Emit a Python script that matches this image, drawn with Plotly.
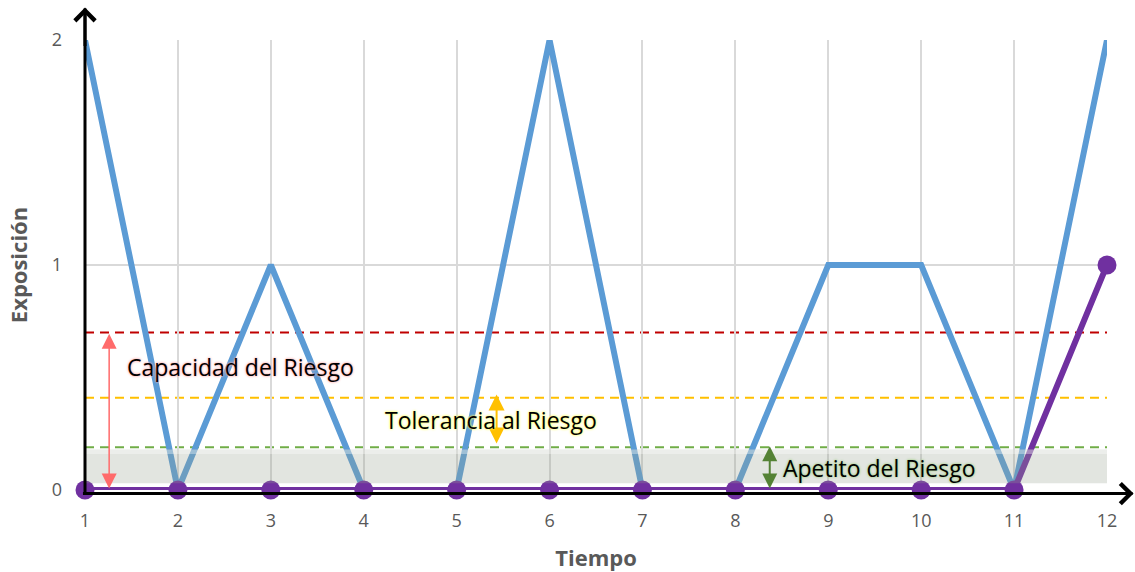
import plotly.graph_objects as go

# Time periods and exposure series
tiempo = list(range(1, 13))
exposicion_real = [2, 0, 1, 0, 0, 2, 0, 0, 1, 1, 0, 2]
exposicion_residual = [0, 0, 0, 0, 0, 0, 0, 0, 0, 0, 0, 1]

# Risk thresholds
capacidad = 0.70
tolerancia = 0.41
apetito = 0.19

x_ticks = tiempo
y_ticks = [0, 1, 2]

BLUE = "#5b9bd5"
PURPLE = "#7030a0"
RED = "#c00000"
YELLOW = "#ffc000"
GREEN = "#70ad47"
TXT = "#595959"
FONT = "'Open Sans', sans-serif"

fig = go.Figure()

fig.add_trace(go.Scatter(
    x=tiempo, y=exposicion_real, mode="lines",
    line=dict(color=BLUE, width=6), cliponaxis=False, hoverinfo="skip",
))
fig.add_trace(go.Scatter(
    x=tiempo, y=exposicion_residual, mode="lines+markers",
    line=dict(color=PURPLE, width=6),
    marker=dict(color=PURPLE, size=19),
    cliponaxis=False, hoverinfo="skip",
))

shapes = []
# threshold lines
for lvl, col in [(capacidad, RED), (tolerancia, YELLOW), (apetito, GREEN)]:
    shapes.append(dict(type="line", xref="x", yref="y", x0=1, x1=12, y0=lvl, y1=lvl,
                       line=dict(color=col, width=2, dash="9px,6px"), layer="below"))
# appetite zone
shapes.append(dict(type="rect", xref="x", yref="y", x0=1, x1=12, y0=0.03, y1=apetito - 0.01,
                   fillcolor="rgba(150,160,145,0.28)", line=dict(width=0), layer="above"))
shapes.append(dict(type="rect", xref="x", yref="y", x0=1, x1=12, y0=apetito - 0.03, y1=apetito - 0.01,
                   fillcolor="rgba(255,255,255,0.35)", line=dict(width=0), layer="above"))
# axis lines
shapes.append(dict(type="line", xref="paper", yref="paper", x0=0, x1=0, y0=-0.008, y1=1.07,
                   line=dict(color="black", width=3), layer="above"))
shapes.append(dict(type="line", xref="paper", yref="paper", x0=-0.002, x1=1.025, y0=-0.008, y1=-0.008,
                   line=dict(color="black", width=3), layer="above"))

annotations = []
# axis arrowheads (open chevrons)
annotations.append(dict(xref="paper", yref="paper", x=0, y=1.072, ax=0, ay=40, text="",
                        showarrow=True, arrowhead=4, arrowsize=1.3, arrowwidth=3, arrowcolor="black"))
annotations.append(dict(xref="paper", yref="paper", x=1.026, y=-0.008, ax=-40, ay=0, text="",
                        showarrow=True, arrowhead=4, arrowsize=1.3, arrowwidth=3, arrowcolor="black"))

# double-headed range arrows
def range_arrow(xv, y_lo, y_hi, color, width, size):
    return dict(xref="x", yref="y", axref="x", ayref="y", x=xv, y=y_hi, ax=xv, ay=y_lo,
                text="", showarrow=True, arrowhead=2, startarrowhead=2, arrowside="end+start",
                arrowsize=size, startarrowsize=size, arrowwidth=width, arrowcolor=color)

annotations.append(range_arrow(1.26, 0.0, capacidad - 0.005, "#ff6b6b", 1.5, 2.0))
annotations.append(range_arrow(5.43, apetito + 0.01, tolerancia + 0.015, YELLOW, 2, 1.6))
annotations.append(range_arrow(8.37, 0.0, apetito + 0.005, "#548235", 2, 1.5))

# zone labels
def label(txt, xv, yv, glow):
    return dict(xref="x", yref="y", x=xv, y=yv, text=txt, showarrow=False,
                font=dict(family=FONT, size=23, color="black",
                          shadow=f"0px 0px 3px {glow}, 0px 0px 2px {glow}"))

annotations.append(label("Capacidad del Riesgo", 2.67, 0.547, "#ffb0b0"))
annotations.append(label("Tolerancia al Riesgo", 5.37, 0.311, "#ffff66"))
annotations.append(label("Apetito del Riesgo", 9.55, 0.098, "#a9d18e"))

fig.update_layout(
    width=1135, height=572,
    margin=dict(l=85, r=28, t=40, b=82),
    plot_bgcolor="white", paper_bgcolor="white",
    showlegend=False,
    shapes=shapes, annotations=annotations,
    font=dict(family=FONT, color=TXT, size=18),
)
fig.update_xaxes(
    range=[1, 12], tickvals=x_ticks, ticktext=[str(v) for v in x_ticks],
    showgrid=True, gridcolor="#d9d9d9", gridwidth=2, zeroline=False, showline=False,
    ticks="", ticklabelstandoff=18, tickfont=dict(size=18, color=TXT), automargin=False,
    title=dict(text="<b>Tiempo</b>", font=dict(size=22, color=TXT), standoff=20),
)
fig.update_yaxes(
    range=[0, 2], tickvals=y_ticks, ticktext=[str(v) for v in y_ticks],
    showgrid=True, gridcolor="#d9d9d9", gridwidth=2, zeroline=False, showline=False,
    ticks="", ticklabelstandoff=22, tickfont=dict(size=18, color=TXT), automargin=False,
    title=dict(text="<b>Exposición</b>", font=dict(size=22, color=TXT), standoff=18),
)

fig.write_html("out.html")
